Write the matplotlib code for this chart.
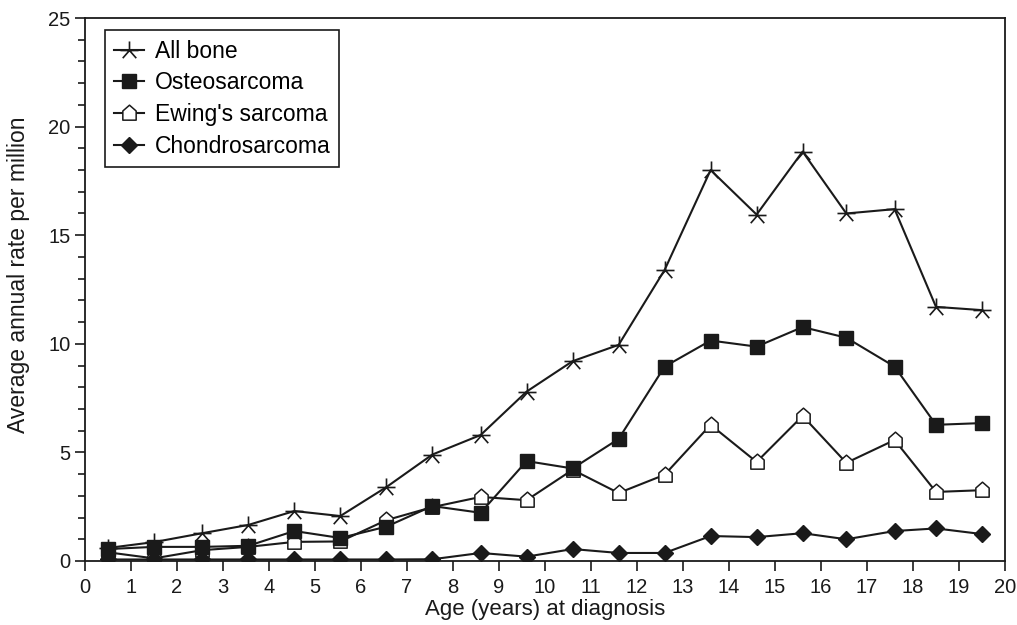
import matplotlib
matplotlib.use("Agg")
import matplotlib.pyplot as plt
from matplotlib.path import Path
from matplotlib.ticker import MultipleLocator

plt.rcParams['font.family'] = ['Liberation Sans', 'DejaVu Sans']

# data
ages = [0.5, 1.5, 2.55, 3.55, 4.55, 5.55, 6.55, 7.55, 8.6, 9.6,
        10.6, 11.6, 12.6, 13.6, 14.6, 15.6, 16.55, 17.6, 18.5, 19.5]
all_bone = [0.6, 0.87, 1.28, 1.66, 2.3, 2.07, 3.4, 4.9, 5.8, 7.8,
            9.2, 9.95, 13.4, 18.0, 15.95, 18.85, 16.0, 16.2, 11.7, 11.55]
osteo = [0.55, 0.65, 0.65, 0.7, 1.38, 1.06, 1.58, 2.53, 2.22, 4.6,
         4.26, 5.62, 8.95, 10.15, 9.87, 10.77, 10.28, 8.95, 6.27, 6.35]
ewing = [0.4, 0.12, 0.5, 0.65, 0.88, 0.9, 1.88, 2.48, 2.95, 2.8,
         4.2, 3.13, 3.97, 6.27, 4.56, 6.68, 4.52, 5.57, 3.18, 3.26]
chondro = [0.07, 0.07, 0.07, 0.07, 0.07, 0.07, 0.07, 0.08, 0.37, 0.2,
           0.55, 0.37, 0.37, 1.15, 1.1, 1.28, 1.0, 1.38, 1.5, 1.24]
labels = ["All bone", "Osteosarcoma", "Ewing's sarcoma", "Chondrosarcoma"]

ink = '#1a1a1a'

# star like marker: horizontal bar, vertical spoke up, two spokes down
star = Path([(-1, 0), (1, 0), (0, 0), (0, 1), (0, 0), (-0.75, -0.85), (0, 0), (0.75, -0.85)],
            [Path.MOVETO, Path.LINETO, Path.MOVETO, Path.LINETO,
             Path.MOVETO, Path.LINETO, Path.MOVETO, Path.LINETO])
# open "house" marker for Ewing's
house = Path([(-0.8, -0.8), (0.8, -0.8), (0.8, 0.3), (0, 1), (-0.8, 0.3), (-0.8, -0.8)],
             [Path.MOVETO, Path.LINETO, Path.LINETO, Path.LINETO, Path.LINETO, Path.CLOSEPOLY])

fig = plt.figure(figsize=(10.17, 6.25), dpi=100)
ax = fig.add_axes([0.0836, 0.1024, 0.9046, 0.8688])

ax.plot(ages, all_bone, color=ink, lw=1.5, marker=star, ms=13, mec=ink, mfc='none',
        mew=1.2, label=labels[0], zorder=3)
ax.plot(ages, osteo, color=ink, lw=1.5, marker='s', ms=9.5, mec=ink, mfc=ink,
        label=labels[1], zorder=5)
ax.plot(ages, ewing, color=ink, lw=1.5, marker=house, ms=12, mec=ink, mfc='white',
        mew=1.1, label=labels[2], zorder=4)
ax.plot(ages, chondro, color=ink, lw=1.5, marker='D', ms=8, mec=ink, mfc=ink,
        label=labels[3], zorder=6)

ax.set_xlim(0, 20)
ax.set_ylim(0, 25)
ax.xaxis.set_major_locator(MultipleLocator(1))
ax.yaxis.set_major_locator(MultipleLocator(5))
ax.yaxis.set_minor_locator(MultipleLocator(1))
ax.tick_params(axis='both', which='major', direction='out', length=7, width=1.2,
               labelsize=14.5, colors=ink)
ax.tick_params(axis='x', which='major', pad=5.5)
ax.tick_params(axis='y', which='minor', direction='out', length=5, width=1.2, colors=ink)
for sp in ax.spines.values():
    sp.set_linewidth(1.3)
    sp.set_color(ink)

ax.set_xlabel('Age (years) at diagnosis', fontsize=16, color=ink, labelpad=1)
ax.set_ylabel('Average annual rate per million', fontsize=16.5, color=ink)
ax.yaxis.set_label_coords(-0.06, 0.527)

leg = ax.legend(loc='upper left', bbox_to_anchor=(0.022, 0.977), fontsize=16.5, frameon=True,
                fancybox=False, edgecolor=ink, framealpha=1, handlelength=1.3,
                handletextpad=0.45, borderpad=0.4, labelspacing=0.38, borderaxespad=0)
leg.get_frame().set_linewidth(1.2)

fig.savefig('out.png', dpi=100)
